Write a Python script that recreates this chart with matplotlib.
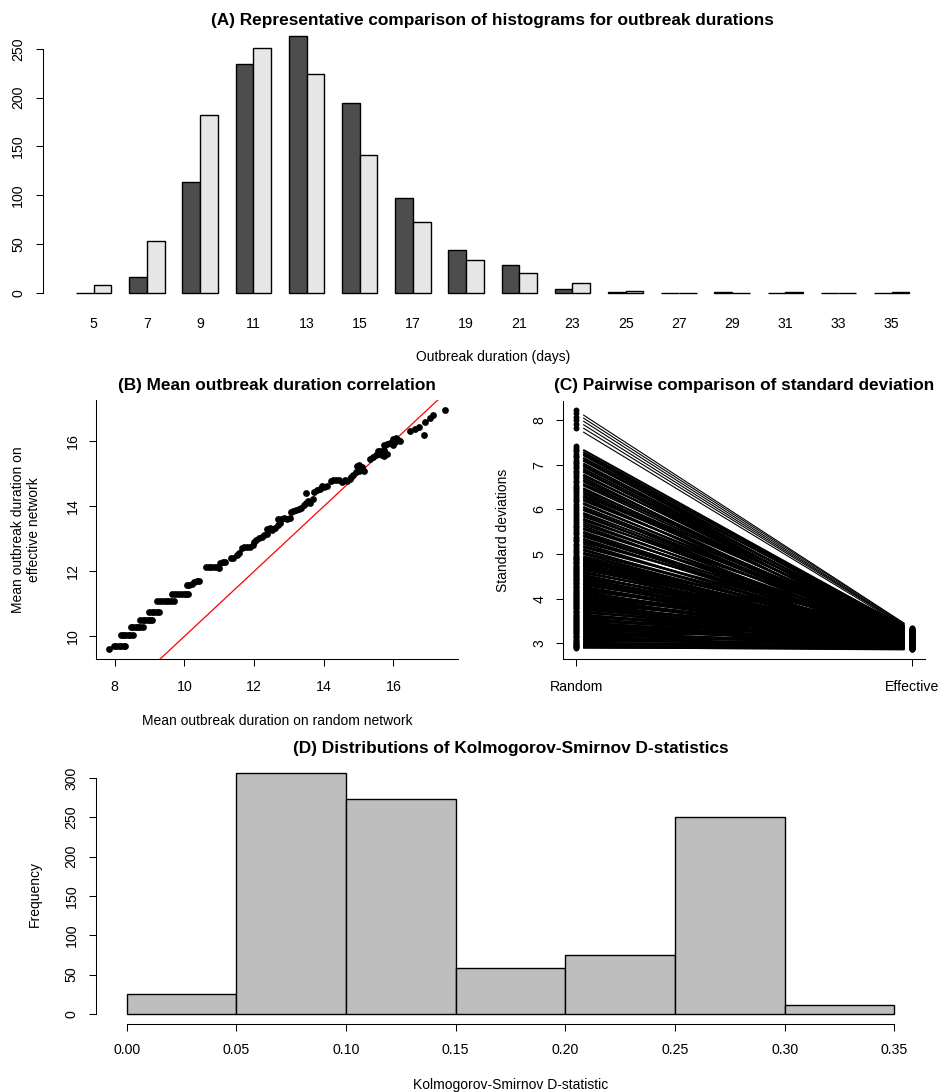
import numpy as np
import matplotlib
matplotlib.use("Agg")
import matplotlib.pyplot as plt
from matplotlib.collections import LineCollection

plt.rcParams['font.family'] = ['Liberation Sans', 'DejaVu Sans']

# (A) histogram counts per outbreak duration
durations = [5, 7, 9, 11, 13, 15, 17, 19, 21, 23, 25, 27, 29, 31, 33, 35]
random_counts = [0, 16, 114, 235, 263, 195, 97, 44, 28, 4, 1, 0, 1, 0, 0, 0]
effective_counts = [8, 53, 182, 251, 224, 141, 72, 33, 20, 10, 2, 0, 0, 1, 0, 1]

# (B) mean outbreak duration, random vs effective network
mean_random = [
    7.85, 7.98, 8.05, 8.12, 8.19, 8.26, 8.30, 8.17, 8.24, 8.31,
    8.38, 8.45, 8.52, 8.46, 8.53, 8.60, 8.67, 8.74, 8.81, 8.74,
    8.81, 8.88, 8.95, 9.02, 9.06, 9.00, 9.07, 9.14, 9.21, 9.28,
    9.22, 9.30, 9.38, 9.46, 9.54, 9.62, 9.70, 9.66, 9.74, 9.82,
    9.90, 9.98, 10.06, 10.12, 10.07, 10.14, 10.21, 10.28, 10.35, 10.43,
    10.62, 10.70, 10.78, 10.86, 10.94, 11.00, 11.02, 11.10, 11.18, 11.33,
    11.40, 11.52, 11.58, 11.65, 11.72, 11.80, 11.88, 11.96, 12.00, 12.07,
    12.15, 12.22, 12.30, 12.38, 12.38, 12.45, 12.52, 12.60, 12.68, 12.75,
    12.70, 12.78, 12.86, 12.95, 13.02, 13.05, 13.12, 13.20, 13.28, 13.34,
    13.43, 13.50, 13.48, 13.56, 13.62, 13.68, 13.72, 13.80, 13.88, 13.95,
    14.02, 14.10, 14.20, 14.28, 14.36, 14.44, 14.52, 14.60, 14.68, 14.75,
    14.78, 14.85, 14.92, 15.00, 15.08, 15.15, 14.95, 15.02, 15.10, 15.34,
    15.42, 15.50, 15.58, 15.66, 15.74, 15.82, 15.55, 15.62, 15.72, 15.74,
    15.82, 15.90, 15.98, 16.06, 16.14, 16.20, 16.00, 16.08, 16.49, 16.62,
    16.73, 16.87, 16.92, 17.06, 17.15, 17.47,
]
mean_effective = [
    9.60, 9.70, 9.70, 9.70, 9.70, 9.70, 9.70, 10.05, 10.05, 10.05,
    10.05, 10.05, 10.05, 10.29, 10.29, 10.29, 10.29, 10.29, 10.29, 10.51,
    10.51, 10.51, 10.51, 10.51, 10.51, 10.75, 10.75, 10.75, 10.75, 10.75,
    11.10, 11.10, 11.10, 11.10, 11.10, 11.10, 11.10, 11.30, 11.30, 11.30,
    11.30, 11.30, 11.30, 11.30, 11.58, 11.58, 11.60, 11.68, 11.72, 11.72,
    12.13, 12.13, 12.13, 12.13, 12.13, 12.12, 12.25, 12.28, 12.30, 12.40,
    12.42, 12.52, 12.58, 12.72, 12.74, 12.76, 12.76, 12.80, 12.90, 12.97,
    13.02, 13.05, 13.12, 13.15, 13.30, 13.33, 13.28, 13.35, 13.42, 13.50,
    13.60, 13.62, 13.65, 13.62, 13.63, 13.82, 13.85, 13.88, 13.92, 13.95,
    14.05, 14.10, 14.40, 14.18, 14.12, 14.22, 14.45, 14.50, 14.55, 14.62,
    14.60, 14.62, 14.78, 14.80, 14.82, 14.80, 14.76, 14.80, 14.78, 14.85,
    14.92, 14.98, 15.06, 15.10, 15.12, 15.08, 15.25, 15.28, 15.22, 15.45,
    15.52, 15.57, 15.62, 15.58, 15.56, 15.60, 15.70, 15.72, 15.75, 15.90,
    15.93, 15.95, 15.90, 15.98, 16.05, 16.00, 16.08, 16.10, 16.32, 16.38,
    16.44, 16.21, 16.60, 16.72, 16.80, 16.98,
]

# (C) standard deviation of outbreak duration per pair (random -> effective)
sd_random = [
    8.22, 8.15, 8.08, 8.00, 7.92, 7.83,
    7.42, 7.37, 7.33, 7.30, 7.24, 7.20, 7.17, 7.11, 7.07, 7.04,
    6.99, 6.95, 6.92, 6.86, 6.83, 6.79, 6.74, 6.70, 6.64, 6.61,
    6.55, 6.51, 6.47, 6.43, 6.38, 6.35, 6.30, 6.26, 6.21, 6.18,
    6.12, 6.08, 6.04, 5.98, 5.95, 5.90, 5.85, 5.81, 5.77, 5.72,
    5.68, 5.63, 5.60, 5.55, 5.52, 5.47, 5.44, 5.39, 5.35, 5.31,
    5.28, 5.23, 5.19, 5.15, 5.12, 5.07, 5.04, 4.99, 4.96,
    4.93, 4.91, 4.88, 4.86, 4.83, 4.81, 4.79, 4.76, 4.74, 4.71,
    4.69, 4.67, 4.64, 4.62, 4.60, 4.57, 4.55, 4.53, 4.50, 4.48,
    4.46, 4.43, 4.41, 4.39, 4.36, 4.34, 4.32, 4.29, 4.27, 4.25,
    4.22, 4.20, 4.18, 4.15, 4.13, 4.11, 4.08, 4.06, 4.04, 4.01,
    3.99, 3.97, 3.94, 3.92, 3.90, 3.87, 3.85, 3.83, 3.80, 3.78,
    3.76, 3.73, 3.71, 3.69, 3.66, 3.64, 3.62, 3.59, 3.57, 3.55,
    3.52, 3.50, 3.48, 3.45, 3.43, 3.41, 3.38, 3.36, 3.34, 3.31,
    3.29, 3.27, 3.24, 3.22, 3.20, 3.17, 3.15, 3.13, 3.10, 3.08,
    3.06, 3.03, 3.01, 2.99, 2.97, 2.95, 2.93, 2.92, 2.91, 2.90,
]
sd_effective = [
    3.34, 3.33, 3.31, 3.30, 3.29, 3.27,
    3.26, 3.22, 3.28, 3.19, 3.24, 3.15, 3.30, 3.21, 3.12, 3.25,
    3.18, 3.08, 3.23, 3.14, 3.27, 3.05, 3.20, 3.11, 3.29, 3.16,
    3.02, 3.24, 3.13, 3.09, 3.22, 2.99, 3.17, 3.26, 3.07, 3.19,
    3.12, 3.03, 3.23, 3.15, 2.97, 3.21, 3.10, 3.28, 3.06, 3.18,
    3.01, 3.14, 3.25, 3.08, 2.96, 3.20, 3.12, 3.04, 3.17, 3.27,
    3.00, 3.09, 3.22, 2.98, 3.13, 3.19, 3.05, 3.11, 2.94,
    3.21, 3.08, 3.27, 3.14, 2.99, 3.19, 3.05, 3.24, 3.11, 2.96,
    3.17, 3.29, 3.02, 3.13, 3.22, 2.94, 3.09, 3.18, 3.26, 3.04,
    3.15, 2.98, 3.23, 3.10, 3.01, 3.20, 3.28, 3.06, 2.95, 3.16,
    3.12, 3.25, 2.97, 3.07, 3.19, 3.03, 3.14, 2.92, 3.22, 3.09,
    3.00, 3.17, 3.11, 2.93, 3.24, 3.06, 3.15, 2.99, 3.20, 3.02,
    3.13, 2.96, 3.08, 3.18, 2.91, 3.12, 3.04, 3.21, 2.98, 3.10,
    3.05, 3.16, 2.94, 3.11, 3.01, 2.90, 3.14, 3.07, 2.97, 3.03,
    3.09, 2.92, 3.12, 3.00, 2.95, 3.06, 2.89, 3.02, 3.10, 2.94,
    2.98, 3.04, 2.91, 2.88, 3.00, 2.93, 2.87, 2.90, 2.86, 2.88,
]
group_labels = ['Random', 'Effective']

# (D) histogram of KS D-statistics
ks_edges = [0.00, 0.05, 0.10, 0.15, 0.20, 0.25, 0.30, 0.35]
ks_counts = [25, 306, 273, 59, 75, 250, 12]

W, H = 938, 1092
TICK_FS = 10.2


def rect(l, t, r, b):
    return [l / W, 1 - b / H, (r - l) / W, (b - t) / H]


def ftext(x, y, s, **kw):
    fig.text(x / W, 1 - y / H, s, ha='center', va='center', **kw)


def r_ticks(ax, ypad, xpad, fs=TICK_FS):
    ax.tick_params(direction='out', length=5, width=0.75, labelsize=fs)
    ax.tick_params(axis='y', pad=ypad)
    ax.tick_params(axis='x', pad=xpad)
    for lab in ax.get_yticklabels():
        lab.set_rotation(90)
        lab.set_va('center')
    for sp in ax.spines.values():
        sp.set_linewidth(0.75)


fig = plt.figure(figsize=(W / 100, H / 100), dpi=100)

# ---- (A) grouped bars
axA = fig.add_axes(rect(42.7, 26.0, 942.7, 302.9))
n = len(durations)
left_dark = [1 + 3 * i for i in range(n)]
left_light = [2 + 3 * i for i in range(n)]
axA.bar(left_dark, random_counts, width=1, align='edge', color='#4d4d4d',
        edgecolor='black', linewidth=1.0)
axA.bar(left_light, effective_counts, width=1, align='edge', color='#e6e6e6',
        edgecolor='black', linewidth=1.0)
span = 3 * n - 1
axA.set_xlim(1 - 0.04 * span, 3 * n + 0.04 * span)
ymax = max(max(random_counts), max(effective_counts))
axA.set_ylim(-0.04 * ymax, 1.04 * ymax)
axA.set_xticks([2 + 3 * i for i in range(n)])
axA.set_xticklabels([str(d) for d in durations])
axA.set_yticks(range(0, 251, 50))
for s in ['top', 'right', 'bottom']:
    axA.spines[s].set_visible(False)
axA.spines['left'].set_bounds(0, 250)
r_ticks(axA, ypad=7.6, xpad=10.2)
axA.tick_params(axis='x', length=0)
ftext(492.7, 20, '(A) Representative comparison of histograms for outbreak durations',
      fontsize=12.4, fontweight='bold')
ftext(493, 357, 'Outbreak duration (days)', fontsize=10)

# ---- (B) scatter of means
axB = fig.add_axes(rect(96, 400, 458, 659))
axB.scatter(mean_random, mean_effective, s=24, color='black', linewidths=0, zorder=3)
axB.axline((10, 10), slope=1, color='red', linewidth=0.9, zorder=2)
xr = max(mean_random) - min(mean_random)
yr = max(mean_effective) - min(mean_effective)
axB.set_xlim(min(mean_random) - 0.04 * xr, max(mean_random) + 0.04 * xr)
axB.set_ylim(min(mean_effective) - 0.04 * yr, max(mean_effective) + 0.04 * yr)
axB.set_xticks([8, 10, 12, 14, 16])
axB.set_yticks([10, 12, 14, 16])
axB.spines['top'].set_visible(False)
axB.spines['right'].set_visible(False)
r_ticks(axB, ypad=6.5, xpad=10.2)
ftext(277, 385, '(B) Mean outbreak duration correlation', fontsize=12.4, fontweight='bold')
ftext(277, 721, 'Mean outbreak duration on random network', fontsize=10)
ftext(26, 530, 'Mean outbreak duration on\neffective network', fontsize=10,
      rotation=90, linespacing=1.1)

# ---- (C) paired standard deviations, R type="b" style lines
axC = fig.add_axes(rect(562.7, 400.7, 925, 659))
gap = 0.021
segs = []
lws = []
for r, e in zip(sd_random, sd_effective):
    segs.append([(1 + gap, r + (e - r) * gap), (2 - gap, e - (e - r) * gap)])
    lws.append(0.8 if r > 7.5 else 1.5)
axC.add_collection(LineCollection(segs, colors='black', linewidths=lws))
axC.scatter([1] * len(sd_random), sd_random, s=18, color='black', linewidths=0, zorder=3)
axC.scatter([2] * len(sd_effective), sd_effective, s=18, color='black', linewidths=0, zorder=3)
axC.set_xlim(0.96, 2.04)
lo = min(min(sd_random), min(sd_effective))
hi = max(max(sd_random), max(sd_effective))
axC.set_ylim(lo - 0.04 * (hi - lo), hi + 0.04 * (hi - lo))
axC.set_xticks([1, 2])
axC.set_xticklabels(group_labels)
axC.set_yticks([3, 4, 5, 6, 7, 8])
axC.spines['top'].set_visible(False)
axC.spines['right'].set_visible(False)
r_ticks(axC, ypad=6.8, xpad=10.2)
ftext(744, 385, '(C) Pairwise comparison of standard deviation', fontsize=12.4,
      fontweight='bold')
ftext(503, 530, 'Standard deviations', fontsize=10, rotation=90)

# ---- (D) KS histogram
axD = fig.add_axes(rect(96, 763.6, 925, 1023.6))
widths = np.diff(ks_edges)
axD.bar(ks_edges[:-1], ks_counts, width=widths, align='edge', color='#bebebe',
        edgecolor='black', linewidth=1.0)
axD.set_xlim(ks_edges[0] - 0.04 * (ks_edges[-1] - ks_edges[0]),
             ks_edges[-1] + 0.04 * (ks_edges[-1] - ks_edges[0]))
axD.set_ylim(-0.04 * max(ks_counts), 1.04 * max(ks_counts))
axD.set_xticks(ks_edges)
axD.set_xticklabels([f'{v:.2f}' for v in ks_edges])
axD.set_yticks(range(0, 301, 50))
axD.spines['top'].set_visible(False)
axD.spines['right'].set_visible(False)
axD.spines['left'].set_bounds(0, 300)
axD.spines['bottom'].set_bounds(ks_edges[0], ks_edges[-1])
r_ticks(axD, ypad=7.6, xpad=8.8)
ftext(510.5, 748, '(D) Distributions of Kolmogorov-Smirnov D-statistics', fontsize=12.4,
      fontweight='bold')
ftext(510.5, 1085, 'Kolmogorov-Smirnov D-statistic', fontsize=10)
ftext(35, 894, 'Frequency', fontsize=10, rotation=90)

fig.savefig('out.png', dpi=100)
